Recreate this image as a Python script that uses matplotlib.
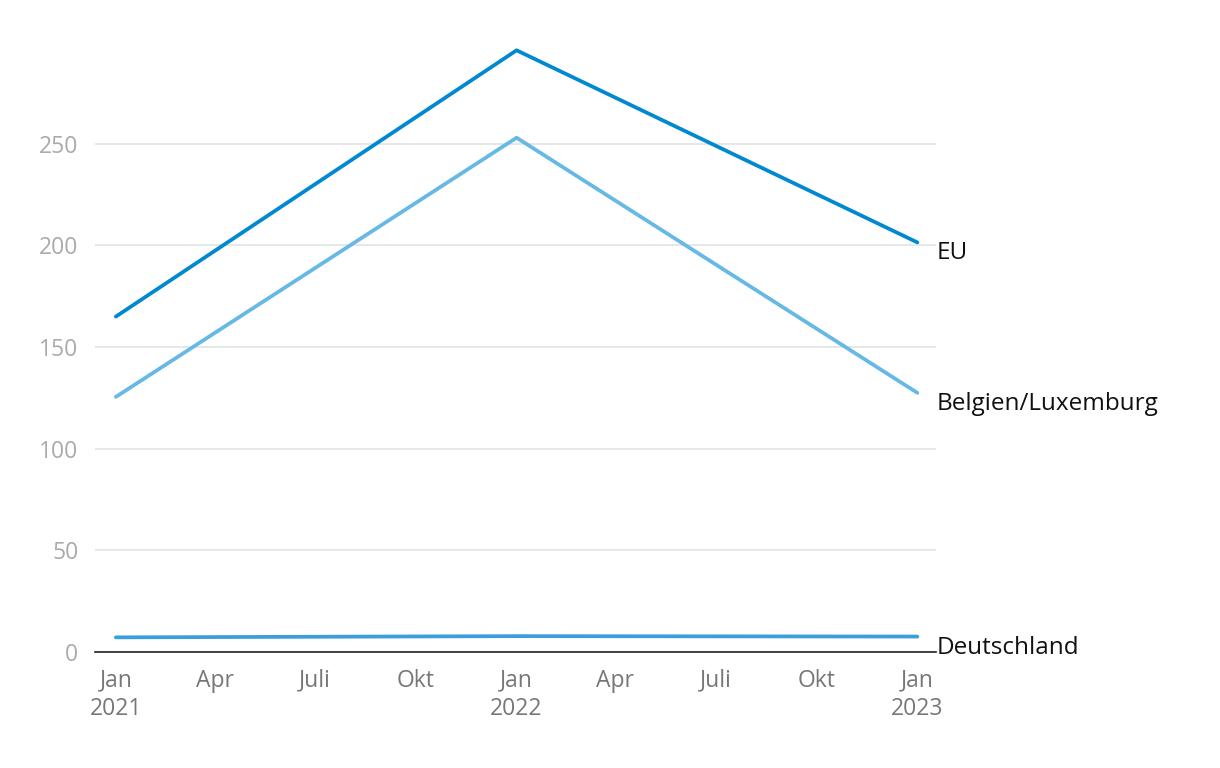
import numpy as np
import pandas as pd
import matplotlib
matplotlib.use('Agg')
import matplotlib.pyplot as plt
import matplotlib.dates as mdates

dates = pd.to_datetime(['2021-01-01', '2022-01-01', '2023-01-01'])
eu = [165, 296, 201.5]
belgien_lux = [125.5, 253, 127.5]
deutschland = [7.2, 7.8, 7.6]

series_names = ['EU', 'Belgien/Luxemburg', 'Deutschland']
series_colors = ['#0088d1', '#66b9e4', '#3a9edb']

tick_dates = pd.date_range('2021-01-01', '2023-01-01', freq='QS')
tick_labels = ['Jan\n2021', 'Apr', 'Juli', 'Okt', 'Jan\n2022', 'Apr', 'Juli', 'Okt', 'Jan\n2023']


def main():
    plt.rcParams['font.family'] = ['Open Sans', 'DejaVu Sans']
    fig = plt.figure(figsize=(12.2, 7.68), dpi=100)
    ax = fig.add_axes([95 / 1220, 116 / 768, 841 / 1220, 620 / 768])

    for vals, name, col in zip([eu, belgien_lux, deutschland], series_names, series_colors):
        ax.plot(dates, vals, color=col, lw=2.7, solid_capstyle='round', zorder=3)
        ax.annotate(name, xy=(dates[-1], vals[-1]), xytext=(19, -11),
                    textcoords='offset pixels', va='center', ha='left',
                    fontsize=17.5, color='#111111', annotation_clip=False)

    ax.set_xlim(pd.Timestamp('2020-12-13'), pd.Timestamp('2023-01-18'))
    ax.set_ylim(0, 305)
    ax.set_yticks([0, 50, 100, 150, 200, 250])
    ax.set_xticks(tick_dates)
    ax.set_xticklabels(tick_labels, color='#777777', fontsize=16.5, linespacing=1.25)
    ax.tick_params(axis='y', colors='#aaaaaa', labelsize=16.5, length=0, pad=12)
    ax.tick_params(axis='x', length=0, pad=12)

    ax.grid(axis='y', color='#e3e3e3', lw=1.2)
    ax.set_axisbelow(True)
    for side in ['top', 'right', 'left']:
        ax.spines[side].set_visible(False)
    ax.spines['bottom'].set_color('#222222')
    ax.spines['bottom'].set_linewidth(1.2)
    ax.spines['bottom'].set_zorder(2)

    fig.savefig('out.png', dpi=100)


if __name__ == '__main__':
    main()
